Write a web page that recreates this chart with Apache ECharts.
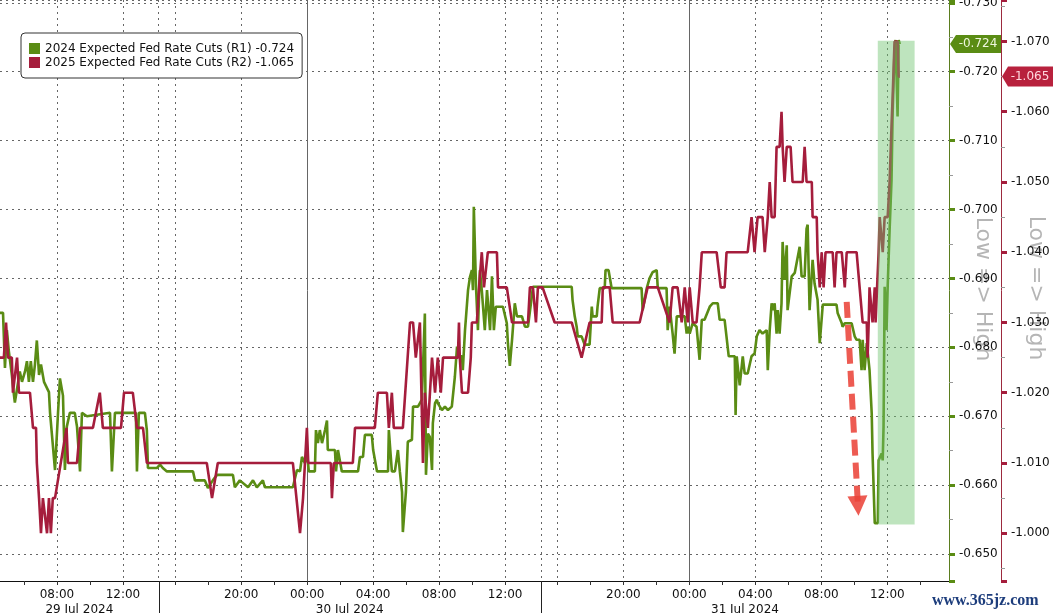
<!DOCTYPE html>
<html><head><meta charset="utf-8">
<script src="https://cdn.jsdelivr.net/npm/echarts@6/dist/echarts.min.js"></script>
<style>html,body{margin:0;padding:0;background:#fff}#c{width:1053px;height:613px}</style>
</head><body><div id="c"></div>
<script>
const FONT = '"DejaVu Sans", "Liberation Sans", sans-serif';
const seriesNames = ['2024 Expected Fed Rate Cuts (R1)', '2025 Expected Fed Rate Cuts (R2)'];
const greenColor = '#5a8c14';
const redColor = '#a51d3c';

const greenTimes = ['29 04:33','29 04:44','29 04:51','29 04:58','29 05:05','29 05:16','29 05:24','29 05:27','29 05:35','29 05:45','29 05:53','29 06:04','29 06:11','29 06:18','29 06:25','29 06:33','29 06:40','29 06:47','29 06:55','29 07:02','29 07:13','29 07:20','29 07:31','29 07:35','29 07:42','29 07:53','29 08:04','29 08:11','29 08:22','29 08:29','29 08:36','29 08:47','29 09:05','29 09:13','29 09:24','29 09:31','29 09:49','29 11:13','29 11:20','29 11:31','29 12:47','29 12:51','29 12:58','29 13:20','29 13:27','29 13:31','29 14:04','29 15:05','29 15:15','29 15:30','29 17:05','29 17:12','29 17:48','29 17:59','29 18:17','29 18:32','29 19:30','29 19:37','29 19:55','29 20:25','29 20:43','29 20:57','29 21:19','29 21:26','29 23:08','29 23:23','29 23:34','29 23:41','29 23:52','29 23:59',
'30 00:06','30 00:28','30 00:32','30 00:39','30 00:46','30 00:54','30 01:05','30 01:12','30 01:15','30 01:41','30 01:45','30 01:52','30 01:59','30 02:06','30 03:05','30 03:12','30 03:23','30 03:30','30 03:55','30 04:00','30 04:14','30 04:54','30 04:57','30 05:08','30 05:19','30 05:30','30 05:37','30 05:45','30 05:48','30 05:55','30 05:59','30 06:06','30 06:21','30 06:25','30 06:43','30 06:57','30 07:08','30 07:12','30 07:19','30 07:26','30 07:34','30 07:37','30 07:45','30 07:52','30 07:55','30 08:10','30 08:21','30 08:32','30 08:46','30 08:57','30 09:05','30 09:08','30 09:23','30 09:26','30 09:34','30 09:45','30 09:52','30 09:59','30 10:03','30 10:06','30 10:14','30 10:21','30 10:28','30 10:35','30 10:46','30 10:54','30 11:05','30 11:12','30 11:19','30 11:26','30 11:52','30 12:06','30 12:10','30 12:17','30 12:25','30 12:35','30 12:43','30 13:01','30 13:12','30 13:23','30 13:37','30 13:41','30 14:06','30 15:14','30 16:52','30 16:55','30 17:03','30 17:10','30 17:14','30 17:28','30 17:39','30 17:57','30 18:05','30 18:08','30 18:23','30 18:26','30 18:34','30 18:52','30 18:55','30 19:06','30 19:17','30 21:06','30 21:10','30 21:25','30 21:35','30 21:46','30 22:01','30 22:05','30 22:37','30 22:41','30 22:48','30 22:59','30 23:06','30 23:14','30 23:43','30 23:50','30 23:54',
'31 00:01','31 00:12','31 00:26','31 00:37','31 00:45','31 00:55','31 01:14','31 01:25','31 01:43','31 01:50','31 02:08','31 02:23','31 02:45','31 02:48','31 02:52','31 03:03','31 03:14','31 03:21','31 03:32','31 03:46','31 03:57','31 04:05','31 04:15','31 04:26','31 04:41','31 04:45','31 04:52','31 04:59','31 05:03','31 05:10','31 05:17','31 05:21','31 05:28','31 05:35','31 05:39','31 05:46','31 05:54','31 05:57','31 06:12','31 06:23','31 06:41','31 06:48','31 06:59','31 07:06','31 07:10','31 07:17','31 07:28','31 07:35','31 07:46','31 07:54','31 08:05','31 08:55','31 08:59','31 09:14','31 09:17','31 09:25','31 09:50','31 10:01','31 10:08','31 10:19','31 10:26','31 10:30','31 10:37','31 10:45','31 10:55','31 11:03','31 11:06','31 11:14','31 11:25','31 11:28','31 11:39','31 11:43','31 11:46','31 11:50','31 11:57','31 12:01','31 12:08','31 12:15','31 12:19','31 12:26','31 12:30','31 12:37','31 12:41','31 12:45'];
const greenValues = [-0.685,-0.685,-0.677,-0.6825,-0.6795,-0.676,-0.673,-0.672,-0.674,-0.6765,-0.675,-0.6765,-0.678,-0.675,-0.678,-0.675,-0.6775,-0.681,-0.676,-0.6775,-0.675,-0.675,-0.6735,-0.6705,-0.6705,-0.6622,-0.6705,-0.6755,-0.673,-0.6622,-0.6685,-0.6705,-0.6705,-0.6685,-0.662,-0.6705,-0.670,-0.6705,-0.662,-0.6705,-0.6705,-0.662,-0.6705,-0.6705,-0.668,-0.6625,-0.6625,-0.663,-0.6625,-0.662,-0.662,-0.6607,-0.6607,-0.6596,-0.6607,-0.6615,-0.6615,-0.6597,-0.6607,-0.6597,-0.6607,-0.6597,-0.6607,-0.6597,-0.6597,-0.6622,-0.6620,-0.6641,-0.6632,-0.6650,
-0.6620,-0.6620,-0.6680,-0.6661,-0.6680,-0.6661,-0.6680,-0.6694,-0.6651,-0.6651,-0.6620,-0.6651,-0.6651,-0.6620,-0.6620,-0.6641,-0.6641,-0.6673,-0.6673,-0.6651,-0.6620,-0.6620,-0.6680,-0.6620,-0.6620,-0.6651,-0.6620,-0.6590,-0.6532,-0.6532,-0.6590,-0.6663,-0.6666,-0.6714,-0.6714,-0.6724,-0.6849,-0.6615,-0.6675,-0.6670,-0.6622,-0.6690,-0.6719,-0.6724,-0.6719,-0.6709,-0.6714,-0.6709,-0.6714,-0.6757,-0.6801,-0.6787,-0.6787,-0.6767,-0.6825,-0.6883,-0.6902,-0.6912,-0.6883,-0.7004,-0.6888,-0.6825,-0.6912,-0.6883,-0.6825,-0.6883,-0.6825,-0.6903,-0.6825,-0.6859,-0.6859,-0.6835,-0.6806,-0.6773,-0.6811,-0.6864,-0.6845,-0.6845,-0.6830,-0.6830,-0.6874,-0.6888,-0.6888,-0.6888,-0.6888,-0.6869,-0.6845,-0.6830,-0.6816,-0.6816,-0.6804,-0.6804,-0.6859,-0.6845,-0.6845,-0.6859,-0.6886,-0.6886,-0.6912,-0.6912,-0.6886,-0.6886,-0.6854,-0.6886,-0.6900,-0.6909,-0.6912,-0.6886,-0.6886,-0.6825,-0.6859,-0.6820,-0.6791,-0.6845,-0.6845,-0.6820,-0.6830,
-0.6820,-0.6835,-0.6830,-0.6782,-0.6840,-0.6840,-0.6859,-0.6864,-0.6864,-0.6840,-0.6840,-0.6787,-0.6787,-0.6702,-0.6787,-0.6745,-0.6787,-0.6762,-0.6762,-0.6787,-0.6791,-0.6816,-0.6825,-0.6820,-0.6825,-0.6767,-0.6825,-0.6864,-0.6854,-0.6864,-0.6820,-0.6854,-0.6820,-0.6864,-0.6953,-0.6898,-0.6948,-0.6854,-0.6903,-0.6908,-0.6946,-0.6903,-0.6903,-0.6972,-0.6978,-0.6854,-0.6927,-0.6893,-0.6869,-0.6806,-0.6862,-0.6862,-0.6850,-0.6835,-0.6830,-0.6835,-0.6835,-0.6816,-0.6811,-0.6811,-0.6767,-0.6811,-0.6767,-0.6806,-0.6767,-0.6704,-0.6646,-0.6545,-0.6545,-0.6636,-0.6646,-0.6636,-0.6685,-0.6888,-0.6825,-0.6888,-0.6970,-0.7043,-0.7140,-0.7232,-0.7246,-0.7135,-0.7246,-0.7240];

const redTimes = ['29 04:33','29 04:47','29 04:55','29 05:02','29 05:16','29 05:20','29 05:35','29 05:42','29 06:22','29 06:33','29 06:44','29 06:47','29 06:55','29 07:02','29 07:09','29 07:24','29 07:31','29 07:38','29 07:45','29 07:53','29 08:35','29 08:40','29 09:13','29 09:24','29 10:11','29 10:36','29 10:47','29 11:53','29 12:04','29 12:36','29 12:51','29 13:13','29 13:27','29 14:07','29 15:05','29 17:55','29 18:14','29 18:35','29 23:08','29 23:34','29 23:45','29 23:59',
'30 00:04','30 01:26','30 01:30','30 01:37','30 02:46','30 02:54','30 04:06','30 04:17','30 04:50','30 04:57','30 05:08','30 05:15','30 05:48','30 06:14','30 06:25','30 06:35','30 06:50','30 06:57','30 07:01','30 07:08','30 07:19','30 07:34','30 07:45','30 07:55','30 08:06','30 08:14','30 09:08','30 09:12','30 09:15','30 09:23','30 09:45','30 09:55','30 09:59','30 10:17','30 10:25','30 10:35','30 10:43','30 10:57','30 11:30','30 11:34','30 12:06','30 12:25','30 13:23','30 13:30','30 13:41','30 13:52','30 13:59','30 14:06','30 15:06','30 15:50','30 16:52','30 17:28','30 17:57','30 18:41','30 18:45','30 19:10','30 19:21','30 20:59','30 21:28','30 22:05','30 22:48','30 22:59','30 23:17','30 23:32','30 23:43','30 23:54',
'31 00:01','31 00:12','31 00:26','31 00:37','31 00:45','31 01:39','31 01:54','31 02:08','31 02:15','31 03:32','31 03:46','31 03:57','31 04:08','31 04:26','31 04:34','31 04:45','31 04:52','31 04:59','31 05:10','31 05:17','31 05:28','31 05:35','31 05:39','31 05:46','31 05:54','31 06:08','31 06:15','31 06:52','31 06:59','31 07:06','31 07:25','31 07:28','31 07:43','31 07:46','31 07:54','31 08:01','31 08:08','31 08:15','31 08:41','31 08:48','31 08:55','31 09:14','31 09:25','31 09:32','31 10:08','31 10:19','31 10:26','31 10:30','31 10:45','31 10:48','31 10:52','31 10:55','31 11:06','31 11:14','31 11:17','31 11:28','31 11:32','31 11:43','31 11:50','31 12:01','31 12:08','31 12:15','31 12:19','31 12:26','31 12:37','31 12:41','31 12:45'];
const redValues = [-1.025,-1.025,-1.030,-1.025,-1.025,-1.020,-1.025,-1.020,-1.020,-1.015,-1.015,-1.010,-1.005,-1.000,-1.005,-1.000,-1.005,-1.000,-1.005,-1.005,-1.015,-1.010,-1.010,-1.015,-1.015,-1.020,-1.015,-1.015,-1.020,-1.020,-1.015,-1.015,-1.010,-1.010,-1.010,-1.010,-1.005,-1.010,-1.010,-1.000,-1.005,-1.015,
-1.010,-1.010,-1.005,-1.010,-1.010,-1.015,-1.015,-1.020,-1.020,-1.015,-1.020,-1.015,-1.015,-1.030,-1.030,-1.025,-1.030,-1.030,-1.010,-1.020,-1.015,-1.025,-1.020,-1.025,-1.020,-1.025,-1.025,-1.030,-1.025,-1.020,-1.020,-1.025,-1.030,-1.030,-1.035,-1.040,-1.035,-1.040,-1.040,-1.035,-1.035,-1.030,-1.030,-1.035,-1.035,-1.030,-1.035,-1.035,-1.035,-1.030,-1.030,-1.025,-1.030,-1.030,-1.035,-1.035,-1.030,-1.030,-1.035,-1.035,-1.030,-1.035,-1.035,-1.030,-1.035,-1.030,
-1.035,-1.030,-1.030,-1.035,-1.040,-1.040,-1.035,-1.035,-1.040,-1.040,-1.045,-1.040,-1.045,-1.045,-1.040,-1.045,-1.050,-1.045,-1.045,-1.055,-1.055,-1.060,-1.055,-1.050,-1.055,-1.055,-1.050,-1.050,-1.055,-1.050,-1.050,-1.045,-1.045,-1.040,-1.035,-1.040,-1.035,-1.040,-1.040,-1.035,-1.040,-1.040,-1.035,-1.040,-1.040,-1.035,-1.035,-1.030,-1.030,-1.025,-1.030,-1.035,-1.030,-1.035,-1.030,-1.040,-1.045,-1.040,-1.045,-1.045,-1.050,-1.058,-1.062,-1.070,-1.070,-1.065,-1.065];

const labelTimes = ['29 08:00','29 12:00','29 20:00','30 00:00','30 04:00','30 08:00','30 12:00','30 20:00','31 00:00','31 04:00','31 08:00','31 12:00'];
const gridTimes = ['29 08:00','29 12:00','29 14:10','29 16:00','29 20:00','30 04:00','30 08:00','30 12:00','30 14:10','30 16:00','30 20:00','31 04:00','31 08:00','31 12:00'];
const midnightTimes = ['30 00:00','31 00:00'];
const tickTimes = ['29 06:00','29 08:00','29 10:00','29 12:00','29 16:00','29 18:00','29 20:00','29 22:00','30 00:00','30 02:00','30 04:00','30 06:00','30 08:00','30 10:00','30 12:00','30 16:00','30 18:00','30 20:00','30 22:00','31 00:00','31 02:00','31 04:00','31 06:00','31 08:00','31 10:00','31 12:00','31 14:00'];
const sessionBounds = ['29 04:33','29 14:10','30 14:10','31 15:44'];
const dayLabels = ['29 Jul 2024','30 Jul 2024','31 Jul 2024'];
const sessionBreaks = [['29 14:10','29 15:00'],['30 14:10','30 15:00']];
const highlightTimes = ['31 11:25','31 13:39'];
const highlightValues = [-0.7245,-0.6543];
const arrowTimes = ['31 09:32','31 10:13'];
const arrowValues = [-0.6866,-0.6570];
const greenRange = [-0.7304,-0.6461];
const redRange = [-1.0759,-0.9932];

function realHours(t){const p=t.split(' ');const hm=p[1].split(':').map(Number);return (Number(p[0])-29)*24+hm[0]+hm[1]/60;}
function pos(t){const r=realHours(t);let v=r;for(const b of sessionBreaks){const a=realHours(b[0]),e=realHours(b[1]);if(r>=e)v-=(e-a);else if(r>a)v-=(r-a);}return v;}

const xMin=pos(sessionBounds[0]), xMax=pos(sessionBounds[3]);
const labelMap={};
labelTimes.forEach(t=>{labelMap[pos(t).toFixed(4)]=t.split(' ')[1];});
const dayCenters=dayLabels.map((d,i)=>(pos(sessionBounds[i])+pos(sessionBounds[i+1]))/2);
dayCenters.forEach((c,i)=>{labelMap[c.toFixed(4)]='\n'+dayLabels[i];});

const greenData=greenTimes.map((t,i)=>[pos(t),greenValues[i]]);
const redData=redTimes.map((t,i)=>[pos(t),redValues[i]]);
const lastG=greenValues[greenValues.length-1], lastR=redValues[redValues.length-1];

function yFmt(v){return Math.abs(v*100-Math.round(v*100))<1e-6?v.toFixed(3):'';}

const chart=echarts.init(document.getElementById('c'),null,{renderer:'canvas'});
const option={
  animation:false,
  backgroundColor:'#fff',
  grid:{left:0,right:104,top:0,bottom:32,containLabel:false,outerBoundsMode:'none'},
  legend:{show:true,orient:'vertical',left:21,top:33,padding:[9,8,9,8],itemGap:1,itemWidth:11,itemHeight:11,icon:'rect',
    backgroundColor:'#fff',borderColor:'#333',borderWidth:1,borderRadius:4,
    textStyle:{fontFamily:FONT,fontSize:12,color:'#111',lineHeight:13},
    formatter:n=>n+' '+(n===seriesNames[0]?lastG.toFixed(3):lastR.toFixed(3)),
    data:seriesNames},
  xAxis:[
    {type:'value',position:'bottom',min:xMin,max:xMax,
     axisLine:{show:true,lineStyle:{color:'#111',width:1}},
     axisTick:{show:true,customValues:tickTimes.map(pos),length:4,lineStyle:{color:'#333'}},
     axisLabel:{show:true,customValues:labelTimes.map(pos).concat(dayCenters),margin:6,
       fontFamily:FONT,fontSize:12,color:'#111',lineHeight:15,
       formatter:v=>labelMap[Number(v).toFixed(4)]||''},
     splitLine:{show:false}},
    {type:'value',position:'top',min:xMin,max:xMax,
     axisLine:{show:false},axisLabel:{show:false},
     axisTick:{show:false,customValues:gridTimes.map(pos)},
     splitLine:{show:true,lineStyle:{type:[2,4],color:'#666',width:1}}}
  ],
  yAxis:[
    {type:'value',position:'right',inverse:true,min:greenRange[0],max:greenRange[1],splitNumber:8,
     axisLine:{show:true,lineStyle:{color:'#5b7d1f',width:1}},
     axisTick:{show:true,length:6,lineStyle:{color:greenColor,width:3}},
     minorTick:{show:true,splitNumber:2,length:4,lineStyle:{color:'#999'}},
     axisLabel:{margin:10,fontFamily:FONT,fontSize:12,color:'#111',formatter:yFmt},
     splitLine:{show:true,lineStyle:{type:[2,4],color:'#666',width:1}}},
    {type:'value',position:'right',offset:52,inverse:true,min:redRange[0],max:redRange[1],splitNumber:8,
     axisLine:{show:true,lineStyle:{color:'#9c2a3e',width:1}},
     axisTick:{show:true,length:6,lineStyle:{color:redColor,width:3}},
     minorTick:{show:true,splitNumber:2,length:4,lineStyle:{color:'#999'}},
     axisLabel:{margin:10,fontFamily:FONT,fontSize:12,color:'#111',formatter:yFmt},
     splitLine:{show:false}}
  ],
  series:[
    {name:'_midnight',type:'line',xAxisIndex:0,yAxisIndex:0,data:[],z:1,silent:true,
     markLine:{silent:true,z:1,symbol:['none','none'],label:{show:false},lineStyle:{color:'#666',type:'solid',width:1},
       emphasis:{disabled:true},data:midnightTimes.map(t=>({xAxis:pos(t)}))}},
    {name:seriesNames[0],type:'line',xAxisIndex:0,yAxisIndex:0,data:greenData,showSymbol:false,symbol:'none',z:3,
     lineStyle:{color:greenColor,width:2.6},itemStyle:{color:greenColor},emphasis:{disabled:true}},
    {name:seriesNames[1],type:'line',xAxisIndex:0,yAxisIndex:1,data:redData,showSymbol:false,symbol:'none',z:4,
     lineStyle:{color:redColor,width:2.6},itemStyle:{color:redColor},emphasis:{disabled:true}},
    {name:'_overlay',type:'line',xAxisIndex:0,yAxisIndex:0,data:[],z:10,silent:true,
     markArea:{silent:true,z:10,itemStyle:{color:'rgba(110,195,110,0.45)'},emphasis:{disabled:true},
       data:[[{xAxis:pos(highlightTimes[0]),yAxis:highlightValues[0]},{xAxis:pos(highlightTimes[1]),yAxis:highlightValues[1]}]]},
     markLine:{silent:true,z:11,symbol:['none','triangle'],symbolSize:20,label:{show:false},emphasis:{disabled:true},
       lineStyle:{color:'rgba(234,68,58,0.88)',width:6,type:[16,7]},
       data:[[{coord:[pos(arrowTimes[0]),arrowValues[0]]},{coord:[pos(arrowTimes[1]),arrowValues[1]]}]]}}
  ]
};
chart.setOption(option);

const axisX=chart.convertToPixel({xAxisIndex:0},xMax);
const bottomY=chart.convertToPixel({yAxisIndex:0},greenRange[1]);
const gy=chart.convertToPixel({yAxisIndex:0},lastG);
const ry=chart.convertToPixel({yAxisIndex:1},lastR);
const rx=axisX+52;
const graphics=[];
[sessionBounds[1],sessionBounds[2]].forEach(t=>{
  const sx=Math.round(chart.convertToPixel({xAxisIndex:0},pos(t)))+0.5;
  graphics.push({type:'line',z:50,shape:{x1:sx,y1:bottomY,x2:sx,y2:613},style:{stroke:'#222',lineWidth:1}});
});
graphics.push({type:'polygon',z:60,shape:{points:[[axisX+1,gy],[axisX+7,gy-9],[rx,gy-9],[rx,gy+9],[axisX+7,gy+9]]},style:{fill:greenColor}});
graphics.push({type:'text',z:61,x:axisX+29,y:gy,style:{text:lastG.toFixed(3),fill:'#eef6dc',font:'12px '+FONT,align:'center',verticalAlign:'middle'}});
graphics.push({type:'polygon',z:60,shape:{points:[[rx+1,ry],[rx+7,ry-10],[1053,ry-10],[1053,ry+10],[rx+7,ry+10]]},style:{fill:'#b8213d'}});
graphics.push({type:'text',z:61,x:rx+29,y:ry,style:{text:lastR.toFixed(3),fill:'#ffd7dd',font:'12px '+FONT,align:'center',verticalAlign:'middle'}});
graphics.push({type:'text',z:0,x:983,y:289,rotation:-Math.PI/2,style:{text:'Low => High',fill:'#b5b5b5',font:'22px '+FONT,align:'center',verticalAlign:'middle'}});
graphics.push({type:'text',z:0,x:1036,y:288,rotation:-Math.PI/2,style:{text:'Low => High',fill:'#b5b5b5',font:'22px '+FONT,align:'center',verticalAlign:'middle'}});
graphics.push({type:'text',z:70,x:932,y:601,style:{text:'www.365jz.com',fill:'#1d3d7c',font:'bold 16px "Liberation Serif", serif',align:'left',verticalAlign:'middle'}});
chart.setOption({graphic:graphics});
</script>
</body></html>
